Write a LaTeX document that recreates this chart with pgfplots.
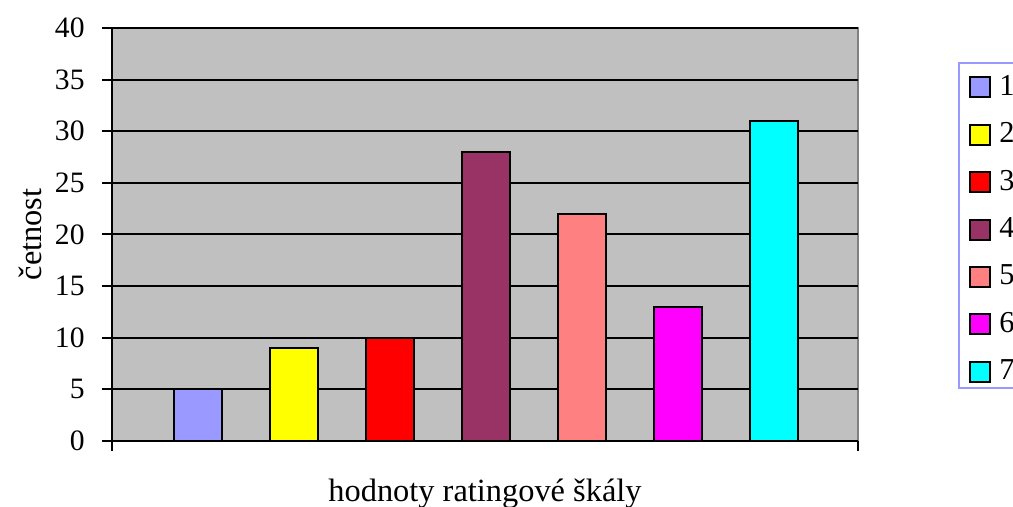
\documentclass[border=0pt]{standalone}
\usepackage{pgfplots}
\pgfplotsset{compat=1.18}
\usepackage{fontspec}
\setmainfont{Liberation Serif}
\definecolor{c1}{HTML}{9999FF}
\definecolor{c2}{HTML}{FFFF00}
\definecolor{c3}{HTML}{FF0000}
\definecolor{c4}{HTML}{993366}
\definecolor{c5}{HTML}{FF8080}
\definecolor{c6}{HTML}{FF00FF}
\definecolor{c7}{HTML}{00FFFF}
\definecolor{silver}{HTML}{C0C0C0}
\definecolor{gray50}{HTML}{808080}
\begin{document}
\fontsize{14.5}{17}\selectfont
\begin{tikzpicture}
\begin{axis}[
  at={(56pt,33pt)}, anchor=south west,
  scale only axis, width=373pt, height=206.5pt,
  xmin=0.10417, xmax=7.875, ymin=0, ymax=40,
  ytick={0,5,...,40}, xtick={0.10417,7.875}, xticklabels={},
  axis lines*=left, tick align=outside, major tick length=5pt,
  /pgf/number format/assume math mode=true,
  ymajorgrids, grid style={black, line width=1pt},
  axis line style={black, line width=1pt},
  tick style={black, line width=1pt},
  axis background/.style={fill=silver, draw=gray50, line width=1pt},
  tick label style={font=\fontsize{14.8}{17}\selectfont},
  yticklabel style={inner sep=0pt, xshift=-8.5pt},
  label style={font=\fontsize{16.2}{19}\selectfont},
  ylabel={četnost}, xlabel={hodnoty ratingové škály},
  ylabel style={at={(axis description cs:-0.11,0.5)}, anchor=center},
  xlabel style={at={(axis description cs:0.5,-0.128)}, anchor=center},
  ybar, bar width=0.5, bar shift=0pt,
  every axis plot/.append style={draw=black, line width=1pt},
  legend image code/.code={\draw[#1, draw=black, line width=1pt] (0pt,-5pt) rectangle (10pt,5pt);},
  legend cell align=left,
  legend style={at={(rel axis cs:1.1488,0.887)}, anchor=north west,
    draw=none, fill=none,
    font=\fontsize{15.2}{18}\selectfont,
    nodes={inner sep=0pt}, row sep=11.5pt, column sep=4pt,
    inner sep=0pt},
]
\addplot[fill=c1] coordinates {(1,5)};
\addplot[fill=c2] coordinates {(2,9)};
\addplot[fill=c3] coordinates {(3,10)};
\addplot[fill=c4] coordinates {(4,28)};
\addplot[fill=c5] coordinates {(5,22)};
\addplot[fill=c6] coordinates {(6,13)};
\addplot[fill=c7] coordinates {(7,31)};
\legend{1,2,3,4,5,6,7}
\end{axis}
\draw[c1, line width=1pt] (479.5pt,222pt) rectangle (515pt,59.5pt);
\pgfresetboundingbox
\useasboundingbox (0,0) rectangle (506.5pt,253.5pt);
\end{tikzpicture}
\end{document}
